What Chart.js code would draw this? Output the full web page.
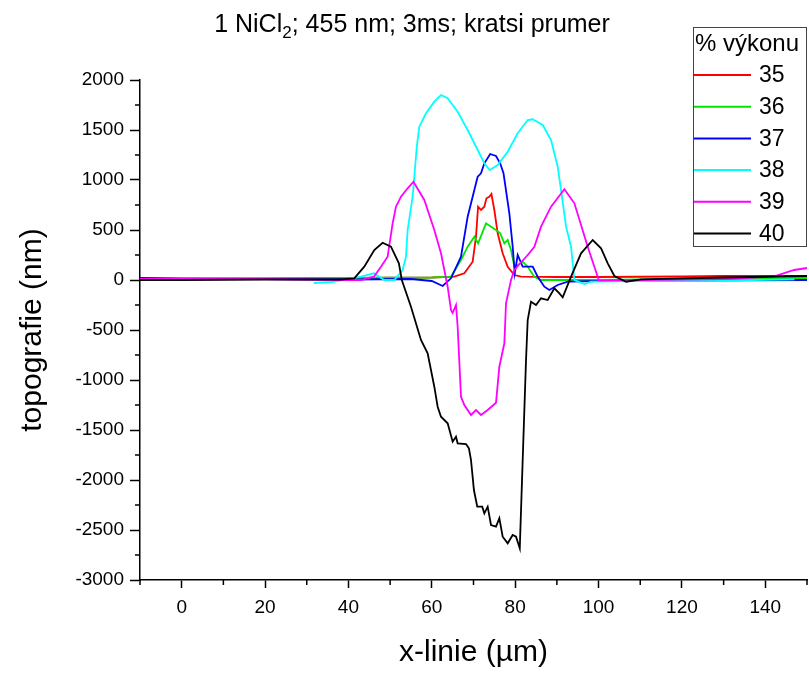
<!DOCTYPE html>
<html>
<head>
<meta charset="utf-8">
<style>
    html, body { margin: 0; padding: 0; background: #fff; }
    .chart-container { width: 809px; height: 673px; }
</style>
</head>
<body>
<div class="chart-container">
    <canvas id="topoChart" width="809" height="673"></canvas>
</div>

<script src="https://cdn.jsdelivr.net/npm/chart.js"></script>
<script>
    // legenda: % výkonu
    const seriesLabels = ['35', '36', '37', '38', '39', '40'];
    const seriesColors = ['#ff0000', '#00e600', '#0000ff', '#00ffff', '#ff00ff', '#000000'];

    const xTicks = [0, 20, 40, 60, 80, 100, 120, 140];
    const yTicks = [-3000, -2500, -2000, -1500, -1000, -500, 0, 500, 1000, 1500, 2000];

    // 35 %
    const x35 = [-10, 0, 20, 40, 60, 65.4, 67.8, 69.8, 70.6, 71.1, 71.8, 72.6, 73.1, 73.8, 74.3, 75, 75.8, 77, 78.2, 79.8, 81.4, 90, 100, 120, 130, 150];
    const y35 = [10, 10, 15, 20, 25, 33, 67, 183, 433, 733, 700, 733, 817, 833, 860, 700, 467, 267, 133, 50, 33, 30, 30, 35, 40, 40];

    // 36 %
    const x36 = [-10, 20, 40, 60, 64.6, 67, 68.6, 70.2, 71.1, 73, 74.2, 75.4, 76.4, 77.4, 78.2, 79, 79.8, 80.6, 81.8, 83, 84.6, 86.2, 100, 120, 150];
    const y36 = [10, 15, 20, 25, 33, 200, 333, 433, 367, 567, 533, 500, 467, 367, 400, 300, 133, 150, 183, 133, 33, 0, 0, 10, 20];

    // 37 %
    const x37 = [-10, 0, 20, 40, 55, 60, 62.6, 64.6, 67, 68.6, 70.2, 71, 71.8, 72.6, 74, 75.4, 76.4, 77.2, 78.6, 79.4, 79.9, 80.6, 81.8, 84.2, 85.4, 87, 88.2, 90.2, 92.6, 100, 120, 150];
    const y37 = [20, 15, 10, 5, 10, -10, -60, 17, 233, 633, 900, 1033, 1067, 1167, 1260, 1240, 1167, 1067, 667, 333, 67, 250, 133, 133, 33, -67, -100, -50, -17, -10, -5, 0];

    // 38 %
    const x38 = [31.7, 36, 43, 46.1, 48.6, 51, 53, 53.8, 54.2, 55.4, 56.4, 57, 58.6, 60.6, 62.2, 63.8, 66.2, 68.6, 71, 72.6, 73.9, 75.8, 78.2, 80.6, 83, 84.2, 86.6, 88.6, 90.2, 91, 92.2, 93.4, 94.2, 96.6, 98.2, 110, 130, 147];
    const y38 = [-30, -20, 33, 67, 0, 0, 100, 233, 500, 833, 1333, 1533, 1667, 1783, 1850, 1817, 1683, 1500, 1300, 1167, 1100, 1150, 1283, 1467, 1600, 1607, 1550, 1400, 1133, 900, 533, 333, 0, -40, -17, -10, -5, 7];

    // 39 %
    const x39 = [-10, 0, 20, 38.2, 43, 46.1, 47.8, 49.4, 50.6, 51.4, 52.6, 54.2, 55.6, 58.2, 60.6, 62.2, 63.8, 64.6, 65, 65.8, 66.2, 67, 67.8, 69.4, 70.6, 71.8, 73.4, 75.4, 76.2, 77.4, 77.8, 79, 79.8, 83, 84.6, 86.2, 88.6, 91.8, 94.2, 97.4, 100.1, 110, 130, 142, 146.9, 150];
    const y39 = [10, 10, 10, 0, 0, 33, 133, 233, 567, 733, 833, 917, 983, 800, 500, 267, -67, -300, -330, -250, -467, -1167, -1250, -1350, -1300, -1350, -1300, -1227, -867, -633, -233, 0, 100, 250, 333, 533, 733, 907, 767, 333, -7, 0, 10, 33, 100, 120];

    // 40 %
    const x40 = [-10, 0, 20, 38, 41.4, 43.8, 46.2, 48.2, 50.2, 52.1, 52.8, 55, 57.4, 59, 60.6, 61.4, 62.2, 63.8, 65, 65.8, 66.2, 68.2, 68.9, 69.4, 70.1, 70.9, 72.1, 72.6, 73.4, 74.2, 75.4, 76.2, 77, 78.2, 79.4, 80.2, 81.1, 81.8, 82.6, 83, 83.8, 85, 86.2, 87.8, 89.4, 90.6, 91.4, 93.4, 95.8, 98.6, 100.6, 102.2, 103.8, 106.6, 110.2, 130, 150];
    const y40 = [0, 0, 5, 5, 17, 133, 300, 373, 333, 167, 0, -267, -600, -733, -1067, -1267, -1367, -1433, -1617, -1567, -1633, -1640, -1683, -1800, -2100, -2267, -2267, -2333, -2267, -2450, -2467, -2383, -2567, -2633, -2550, -2567, -2683, -1800, -800, -400, -217, -250, -183, -200, -83, -133, -173, 33, 267, 400, 317, 167, 40, -17, 7, 25, 40];

    const seriesX = [x35, x36, x37, x38, x39, x40];
    const seriesY = [y35, y36, y37, y38, y39, y40];

    const FONT = "'Liberation Sans', Arial, sans-serif";

    function toPoints(xs, ys) {
        return xs.map((x, i) => ({ x: x, y: ys[i] }));
    }

    // nadpis s dolnim indexem
    const titlePlugin = {
        id: 'titlePlugin',
        afterDraw(chart) {
            const ctx = chart.ctx;
            const parts = [
                { t: '1 NiCl', size: 25, dy: 0 },
                { t: '2', size: 17, dy: 6 },
                { t: '; 455 nm; 3ms; kratsi prumer', size: 25, dy: 0 }
            ];
            ctx.save();
            ctx.fillStyle = '#000';
            ctx.textBaseline = 'alphabetic';
            let total = 0;
            parts.forEach(p => {
                ctx.font = p.size + 'px ' + FONT;
                p.w = ctx.measureText(p.t).width;
                total += p.w;
            });
            let x = 412 - total / 2;
            parts.forEach(p => {
                ctx.font = p.size + 'px ' + FONT;
                ctx.fillText(p.t, x, 32 + p.dy);
                x += p.w;
            });
            ctx.restore();
        }
    };

    // vedlejsi tiky
    const minorTicksPlugin = {
        id: 'minorTicks',
        afterDraw(chart) {
            const ctx = chart.ctx;
            const xs = chart.scales.x;
            const ys = chart.scales.y;
            ctx.save();
            ctx.strokeStyle = '#000';
            ctx.lineWidth = 1.5;
            ctx.beginPath();
            for (let v = -10; v <= 150; v += 20) {
                const px = xs.getPixelForValue(v);
                ctx.moveTo(px, ys.bottom);
                ctx.lineTo(px, ys.bottom + 5);
            }
            for (let v = -2750; v <= 2000; v += 500) {
                const py = ys.getPixelForValue(v);
                ctx.moveTo(xs.left, py);
                ctx.lineTo(xs.left - 5, py);
            }
            ctx.stroke();
            ctx.restore();
        }
    };

    // legenda v ramecku
    const boxLegendPlugin = {
        id: 'boxLegend',
        afterDraw(chart) {
            const ctx = chart.ctx;
            const left = 693.5, top = 27.5, w = 113, h = 219;
            ctx.save();
            ctx.fillStyle = '#fff';
            ctx.fillRect(left, top, w, h);
            ctx.strokeStyle = '#444';
            ctx.lineWidth = 1;
            ctx.strokeRect(left, top, w, h);
            ctx.fillStyle = '#000';
            ctx.textBaseline = 'middle';
            ctx.font = '24px ' + FONT;
            ctx.fillText('% výkonu', 695, 44);
            chart.data.datasets.forEach((ds, i) => {
                const y = 75 + i * 31.7;
                ctx.strokeStyle = ds.borderColor;
                ctx.lineWidth = 2;
                ctx.beginPath();
                ctx.moveTo(694, y);
                ctx.lineTo(751, y);
                ctx.stroke();
                ctx.fillStyle = '#000';
                ctx.font = '23px ' + FONT;
                ctx.fillText(ds.label, 759, y + 1);
            });
            ctx.restore();
        }
    };

    const datasets = seriesLabels.map((label, i) => ({
        label: label,
        data: toPoints(seriesX[i], seriesY[i]),
        borderColor: seriesColors[i],
        backgroundColor: seriesColors[i],
        borderWidth: 1.8,
        pointRadius: 0,
        tension: 0,
        fill: false,
        order: seriesLabels.length - i
    }));

    new Chart(document.getElementById('topoChart').getContext('2d'), {
        type: 'line',
        data: { datasets: datasets },
        options: {
            responsive: false,
            animation: false,
            layout: { padding: { top: 80, right: 2, left: 0, bottom: 0 } },
            scales: {
                x: {
                    type: 'linear',
                    min: -10,
                    max: 150,
                    afterFit: s => { s.height = 93; },
                    afterBuildTicks: s => { s.ticks = xTicks.map(v => ({ value: v })); },
                    border: { color: '#000', width: 1.5 },
                    grid: { drawOnChartArea: false, tickLength: 8, tickColor: '#000', tickWidth: 1.5 },
                    ticks: { color: '#000', font: { family: FONT, size: 19 }, padding: 8, maxRotation: 0, callback: v => String(v) },
                    title: { display: true, text: 'x-linie (µm)', color: '#000', font: { family: FONT, size: 30 }, padding: { top: 0, bottom: 2 } }
                },
                y: {
                    min: -3000,
                    max: 2000,
                    afterFit: s => { s.width = 140; },
                    afterBuildTicks: s => { s.ticks = yTicks.map(v => ({ value: v })); },
                    border: { color: '#000', width: 1.5 },
                    grid: { drawOnChartArea: false, tickLength: 10, tickColor: '#000', tickWidth: 1.5 },
                    ticks: { color: '#000', font: { family: FONT, size: 19 }, padding: 6, callback: v => String(v) },
                    title: { display: true, text: 'topografie (nm)', color: '#000', font: { family: FONT, size: 30 }, padding: { top: 15, bottom: 0 } }
                }
            },
            plugins: {
                legend: { display: false },
                title: { display: false },
                tooltip: { enabled: false }
            }
        },
        plugins: [titlePlugin, minorTicksPlugin, boxLegendPlugin]
    });
</script>
</body>
</html>
